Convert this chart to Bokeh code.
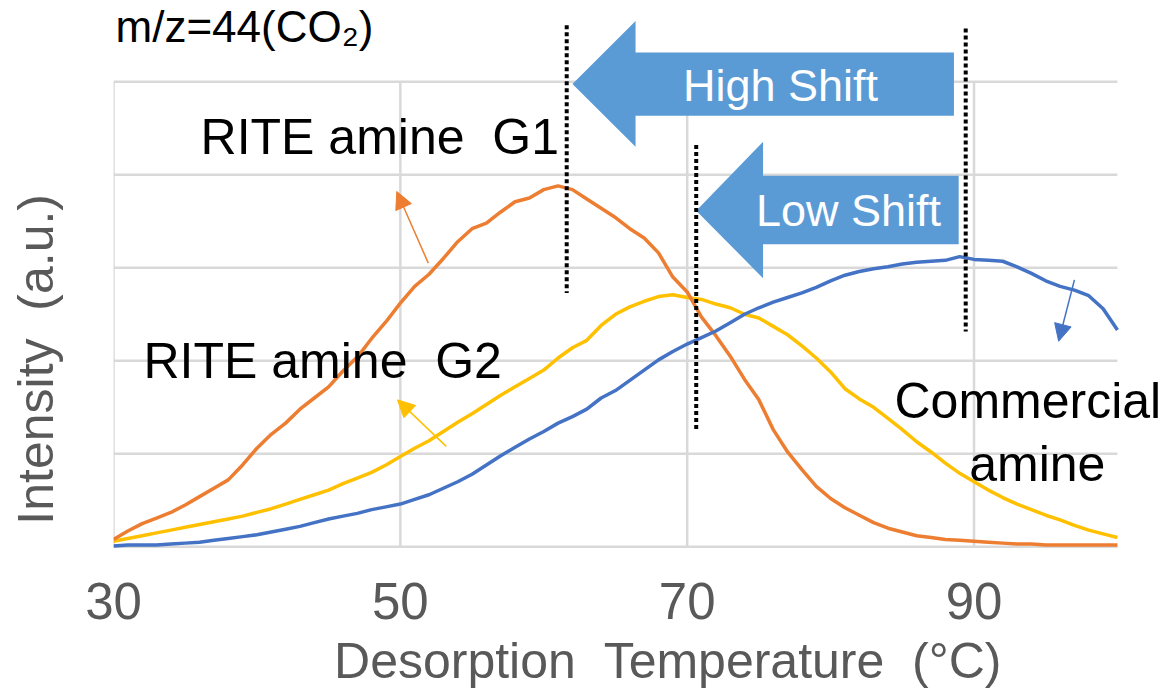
from bokeh.plotting import figure
from bokeh.models import FixedTicker, Arrow, NormalHead
from bokeh.core.properties import value
from bokeh.embed import file_html
from bokeh.resources import INLINE

# ---------------- data ----------------
temperature = list(range(30, 101))

rite_g1 = [0.08, 0.17, 0.25, 0.31, 0.37, 0.45, 0.54, 0.63, 0.72, 0.88,
           1.06, 1.21, 1.33, 1.48, 1.60, 1.72, 1.89, 2.04, 2.24, 2.42,
           2.62, 2.80, 2.93, 3.10, 3.28, 3.42, 3.48, 3.60, 3.71, 3.75,
           3.84, 3.88, 3.84, 3.74, 3.64, 3.54, 3.42, 3.32, 3.16, 2.90,
           2.74, 2.47, 2.27, 2.05, 1.80, 1.58, 1.26, 1.02, 0.83, 0.65,
           0.52, 0.42, 0.34, 0.26, 0.20, 0.16, 0.12, 0.10, 0.08, 0.07,
           0.06, 0.05, 0.04, 0.03, 0.03, 0.02, 0.02, 0.02, 0.02, 0.02,
           0.02]

rite_g2 = [0.06, 0.09, 0.12, 0.15, 0.18, 0.21, 0.24, 0.27, 0.30, 0.33,
           0.37, 0.41, 0.46, 0.51, 0.56, 0.61, 0.68, 0.74, 0.80, 0.88,
           0.97, 1.06, 1.14, 1.24, 1.34, 1.43, 1.53, 1.63, 1.72, 1.81,
           1.90, 2.03, 2.14, 2.22, 2.38, 2.50, 2.58, 2.64, 2.69, 2.71,
           2.68, 2.66, 2.61, 2.57, 2.50, 2.46, 2.37, 2.28, 2.16, 2.03,
           1.88, 1.70, 1.59, 1.50, 1.38, 1.26, 1.13, 1.02, 0.90, 0.79,
           0.70, 0.61, 0.53, 0.46, 0.40, 0.34, 0.29, 0.23, 0.18, 0.14,
           0.10]

commercial = [0.01, 0.02, 0.02, 0.02, 0.03, 0.04, 0.05, 0.07, 0.09, 0.11,
              0.13, 0.16, 0.19, 0.22, 0.26, 0.30, 0.33, 0.36, 0.40, 0.43,
              0.46, 0.51, 0.56, 0.63, 0.70, 0.78, 0.88, 0.98, 1.07, 1.16,
              1.24, 1.33, 1.40, 1.48, 1.60, 1.68, 1.79, 1.90, 2.01, 2.10,
              2.18, 2.25, 2.32, 2.41, 2.50, 2.57, 2.63, 2.68, 2.73, 2.79,
              2.86, 2.92, 2.96, 2.99, 3.01, 3.04, 3.06, 3.07, 3.08, 3.12,
              3.09, 3.08, 3.07, 3.01, 2.94, 2.86, 2.80, 2.76, 2.70, 2.56,
              2.33]

x_ticks = [30, 50, 70, 90]
y_grid = [0, 1, 2, 3, 4, 5]
x_min, x_max = 30, 100

# ---------------- styling ----------------
FONT = "Liberation Sans"
GRID = "#d9d9d9"
AXIS_TXT = "#595959"
ORANGE = "#ED7D31"
YELLOW = "#FFC000"
BLUE = "#4472C4"
SHIFT = "#5B9BD5"
NBSP = "\u00a0"
PX_PER_UNIT_Y = 93.2

p = figure(width=1166, height=691,
           x_range=(30, 103.42), y_range=(-0.05, 5.873),
           output_backend="svg", toolbar_location=None,
           min_border_left=113, min_border_right=0,
           min_border_top=0, min_border_bottom=139)
p.outline_line_color = None
p.grid.visible = False
p.background_fill_color = "white"
p.border_fill_color = "white"

# x axis
xa = p.xaxis[0]
xa.ticker = FixedTicker(ticks=x_ticks)
xa.axis_line_color = None
xa.major_tick_line_color = None
xa.minor_tick_line_color = None
xa.major_tick_out = 0
xa.major_tick_in = 0
xa.major_label_text_font = FONT
xa.major_label_text_font_size = "51px"
xa.major_label_text_color = AXIS_TXT
xa.major_label_standoff = 31
xa.axis_label = NBSP * 4 + "Desorption " + NBSP + "Temperature " + NBSP + "(\u00b0C)"
xa.axis_label_text_font = FONT
xa.axis_label_text_font_size = "50px"
xa.axis_label_text_font_style = "normal"
xa.axis_label_text_color = AXIS_TXT
xa.axis_label_standoff = 11

# y axis
ya = p.yaxis[0]
ya.ticker = FixedTicker(ticks=[])
ya.axis_line_color = None
ya.major_tick_line_color = None
ya.minor_tick_line_color = None
ya.major_tick_out = 0
ya.major_tick_in = 0
ya.axis_label = "Intensity " + NBSP + "(a.u.)" + NBSP * 12
ya.axis_label_text_font = FONT
ya.axis_label_text_font_size = "50px"
ya.axis_label_text_font_style = "normal"
ya.axis_label_text_color = AXIS_TXT
ya.axis_label_standoff = 50

# grid lines (only inside the data area)
p.segment(x0=x_ticks, y0=[y_grid[0]] * len(x_ticks), x1=x_ticks,
          y1=[y_grid[-1]] * len(x_ticks), line_color=GRID, line_width=2.5)
p.segment(x0=[x_min] * len(y_grid), y0=y_grid, x1=[x_max] * len(y_grid),
          y1=y_grid, line_color=GRID, line_width=2.5)

# curves
p.line(temperature, rite_g2, line_color=YELLOW, line_width=3.5)
p.line(temperature, rite_g1, line_color=ORANGE, line_width=3.5)
p.line(temperature, commercial, line_color=BLUE, line_width=3.5)

# block arrows
p.patch([62.0, 66.4, 66.4, 88.6, 88.6, 66.4, 66.4],
        [4.976, 5.652, 5.313, 5.313, 4.633, 4.633, 4.30],
        fill_color=SHIFT, line_color=None)
p.patch([70.63, 75.29, 75.29, 88.93, 88.93, 75.29, 75.29],
        [3.614, 4.354, 3.989, 3.989, 3.253, 3.253, 2.888],
        fill_color=SHIFT, line_color=None)

# dotted marker lines
p.segment(x0=[61.6, 70.63, 89.42], y0=[5.606, 4.319, 5.571],
          x1=[61.6, 70.63, 89.42], y1=[2.729, 1.239, 2.315],
          line_color="black", line_width=4, line_dash="4 3")

# small pointer arrows
for (xs, ys, xe, ye, c) in [(51.95, 3.05, 49.75, 3.82, ORANGE),
                            (53.2, 1.08, 49.8, 1.58, YELLOW),
                            (97.0, 2.87, 95.9, 2.21, BLUE)]:
    p.add_layout(Arrow(x_start=xs, y_start=ys, x_end=xe, y_end=ye,
                       line_color=c, line_width=1.5,
                       end=NormalHead(size=17, fill_color=c, line_color=c)))

# texts (y given as the wanted baseline; corrected for the renderer's offset)
def txt(x, y, s, size, color="black", align="left"):
    shift = 0.4 * size / PX_PER_UNIT_Y
    p.text(x=[x], y=[y + shift], text=[s], text_font=value(FONT),
           text_font_size=value(f"{size}px"), text_color=color,
           text_align=align, text_baseline="alphabetic")

txt(30.14, 5.40, "m/z=44(CO\u2082)", 44)
txt(36.07, 4.196, "RITE amine " + NBSP + "G1", 50)
txt(32.09, 1.779, "RITE amine " + NBSP + "G2", 50)
txt(93.75, 1.350, "Commercial", 50, align="center")
txt(94.41, 0.671, "amine", 50, align="center")
txt(69.71, 4.766, "High Shift", 45, color="white")
txt(74.80, 3.425, "Low Shift", 45, color="white")

open("out.html", "w").write(file_html(p, INLINE))
